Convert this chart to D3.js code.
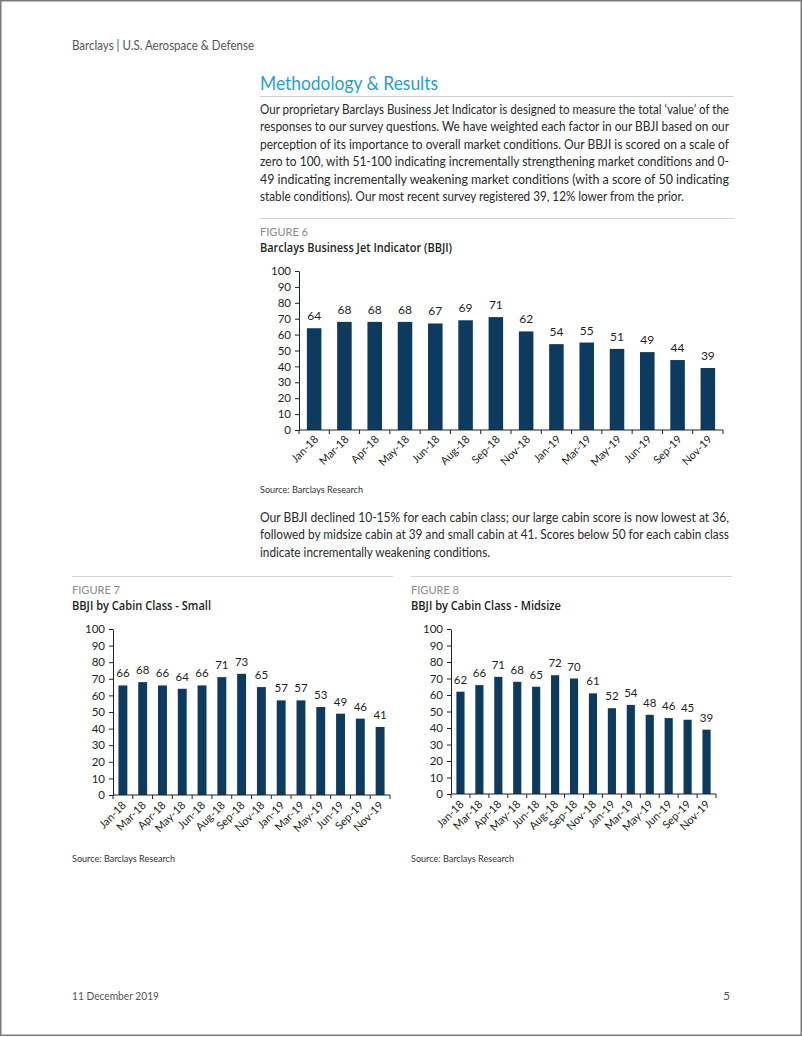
<!DOCTYPE html>
<html>
<head>
<meta charset="utf-8">
<script src="https://cdn.jsdelivr.net/npm/d3@7"></script>
<style>
  html, body { margin: 0; padding: 0; background: #fff; }
  svg { display: block; }
  text { font-family: Lato, "Open Sans", sans-serif; }
</style>
</head>
<body>
<svg id="page" width="802" height="1037"></svg>
<script>
// ---------------- DATA ----------------
const months = ["Jan-18","Mar-18","Apr-18","May-18","Jun-18","Aug-18","Sep-18","Nov-18","Jan-19","Mar-19","May-19","Jun-19","Sep-19","Nov-19"];
const bbjiValues = [64,68,68,68,67,69,71,62,54,55,51,49,44,39];
const smallValues = [66,68,66,64,66,71,73,65,57,57,53,49,46,41];
const midsizeValues = [62,66,71,68,65,72,70,61,52,54,48,46,45,39];
const yTicks = [0,10,20,30,40,50,60,70,80,90,100];

const headerText = "Barclays | U.S. Aerospace & Defense";
const sectionTitle = "Methodology & Results";
const para1 = [
  "Our proprietary Barclays Business Jet Indicator is designed to measure the total \u2018value\u2019 of the",
  "responses to our survey questions. We have weighted each factor in our BBJI based on our",
  "perception of its importance to overall market conditions. Our BBJI is scored on a scale of",
  "zero to 100, with 51-100 indicating incrementally strengthening market conditions and 0-",
  "49 indicating incrementally weakening market conditions (with a score of 50 indicating",
  "stable conditions).  Our most recent survey registered 39, 12% lower from the prior."
];
const para2 = [
  "Our BBJI declined 10-15% for each cabin class; our large cabin score is now lowest at 36,",
  "followed by midsize cabin at 39 and small cabin at 41. Scores below 50 for each cabin class",
  "indicate incrementally weakening conditions."
];
const figLabels = ["FIGURE 6","FIGURE 7","FIGURE 8"];
const figTitles = ["Barclays Business Jet Indicator (BBJI)","BBJI by Cabin Class - Small","BBJI by Cabin Class - Midsize"];
const sourceText = "Source: Barclays Research";
const footerDate = "11 December 2019";
const pageNumber = "5";

// ---------------- STYLE ----------------
const BAR = "#0d3a5f";
const TXT = "#231f20";
const svg = d3.select("#page");

// page border
svg.append("rect").attr("x",0.75).attr("y",0.75).attr("width",800.5).attr("height",1034.5)
  .attr("fill","none").attr("stroke","#7a7a7a").attr("stroke-width",1.5);

function fitText(sel, str, x, y, width, opts) {
  const t = sel.append("text").attr("x",x).attr("y",y).text(str)
    .attr("font-size",opts.size).attr("fill",opts.fill||TXT);
  if (opts.weight) t.attr("font-weight",opts.weight);
  if (opts.family) t.style("font-family",opts.family);
  if (width) t.attr("textLength",width).attr("lengthAdjust","spacingAndGlyphs");
  return t;
}

// header
fitText(svg, headerText, 72, 50, 182, {size:12.5, fill:"#555"});
// section title
fitText(svg, sectionTitle, 260, 90, 178, {size:19.5, fill:"#1f9fd8"});
svg.append("line").attr("x1",260).attr("x2",734).attr("y1",96.5).attr("y2",96.5).attr("stroke","#cfcfcf");

// paragraph 1
const p1Widths = [469,469,469,469,469,424];
para1.forEach((s,i)=> fitText(svg, s, 260, 114 + i*17.4, p1Widths[i], {size:12.5, fill:"#2a2a2a"}));
// paragraph 2
const p2Widths = [469,469,230];
para2.forEach((s,i)=> fitText(svg, s, 260, 522 + i*17.4, p2Widths[i], {size:12.5, fill:"#2a2a2a"}));

// footer
fitText(svg, footerDate, 72, 1000, 87, {size:11.5, fill:"#555"});
svg.append("text").attr("x",730).attr("y",1000).attr("text-anchor","end").attr("font-size",11.5).attr("fill","#555").text(pageNumber);

// ---------------- CHARTS ----------------
function chart(cfg) {
  const g = svg.append("g");
  g.append("line").attr("x1",cfg.ruleX0).attr("x2",cfg.ruleX1).attr("y1",cfg.ruleY+0.5).attr("y2",cfg.ruleY+0.5).attr("stroke","#d4d4d4");
  fitText(g, cfg.figLabel, cfg.ruleX0, cfg.ruleY+18, cfg.figLabelW, {size:11.5, fill:"#8a8a8a"});
  fitText(g, cfg.title, cfg.ruleX0, cfg.ruleY+34, cfg.titleW, {size:12.5, weight:600, family:'"Open Sans", Lato, sans-serif'});
  fitText(g, sourceText, cfg.ruleX0, cfg.sourceY, 103, {size:9.5, fill:"#333"});

  const x = d3.scaleBand().domain(months).range([cfg.x0, cfg.x1])
    .paddingInner(cfg.pad).paddingOuter(cfg.pad/2);
  const y = d3.scaleLinear().domain([0,100]).range([cfg.yBottom, cfg.yTop]);

  g.selectAll("rect.bar").data(cfg.values).join("rect").attr("class","bar")
    .attr("x",(d,i)=>x(months[i])).attr("width",x.bandwidth())
    .attr("y",d=>y(d)).attr("height",d=>y(0)-y(d)).attr("fill",BAR);

  g.selectAll("text.val").data(cfg.values).join("text").attr("class","val")
    .attr("x",(d,i)=>x(months[i])+x.bandwidth()/2).attr("y",d=>y(d)-cfg.valGap)
    .attr("text-anchor","middle").attr("font-size",cfg.valSize).attr("fill",TXT).text(d=>d);

  const ya = g.append("g").attr("transform",`translate(${cfg.x0},0)`)
    .call(d3.axisLeft(y).tickValues(yTicks).tickSize(4).tickSizeOuter(0).tickPadding(4));
  ya.select(".domain").attr("stroke","#222");
  ya.selectAll(".tick line").attr("stroke","#222");
  ya.selectAll(".tick text").attr("font-size",cfg.tickSize).attr("fill",TXT)
    .style("font-family",'Lato, "Open Sans", sans-serif');

  g.append("line").attr("x1",cfg.x0).attr("x2",cfg.x1).attr("y1",y(0)).attr("y2",y(0)).attr("stroke","#222");
  const bounds = d3.range(months.length+1).map(i=> x.range()[0] + i*x.step());
  g.selectAll("line.xt").data(bounds).join("line").attr("class","xt")
    .attr("x1",d=>d).attr("x2",d=>d).attr("y1",y(0)).attr("y2",y(0)+4).attr("stroke","#222");

  g.selectAll("text.xl").data(months).join("text").attr("class","xl")
    .attr("transform",d=>`translate(${x(d)+x.bandwidth()/2+cfg.lx},${y(0)+cfg.ly}) rotate(-45)`)
    .attr("text-anchor","end").attr("font-size",cfg.xSize).attr("fill",TXT).text(d=>d);
}

chart({figLabel:figLabels[0], title:figTitles[0], values:bbjiValues,
  ruleX0:260, ruleX1:735, ruleY:218, figLabelW:48, titleW:192, sourceY:493,
  x0:299, x1:723, yTop:271, yBottom:430, pad:0.52,
  valGap:8, valSize:12, tickSize:11.5, xSize:11, lx:5, ly:10});

chart({figLabel:figLabels[1], title:figTitles[1], values:smallValues,
  ruleX0:72, ruleX1:393, ruleY:576, figLabelW:48, titleW:139, sourceY:862,
  x0:113, x1:390, yTop:629, yBottom:795, pad:0.55,
  valGap:8, valSize:11.5, tickSize:11.5, xSize:11, lx:4, ly:11});

chart({figLabel:figLabels[2], title:figTitles[2], values:midsizeValues,
  ruleX0:411, ruleX1:732, ruleY:576, figLabelW:48, titleW:150, sourceY:862,
  x0:451, x1:716, yTop:629, yBottom:794, pad:0.57,
  valGap:8, valSize:11.5, tickSize:11.5, xSize:11, lx:4, ly:11});
</script>
</body>
</html>
